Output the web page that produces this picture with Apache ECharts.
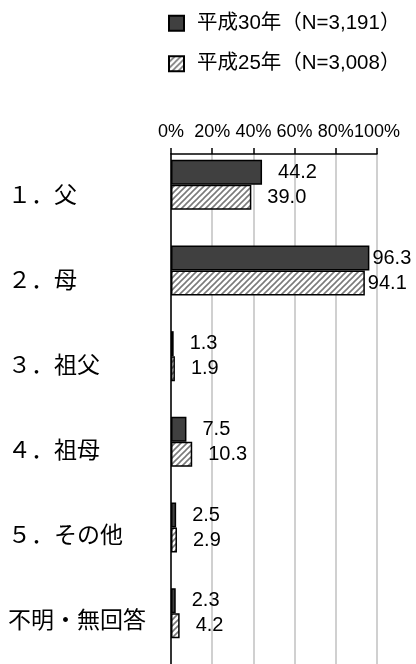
<!DOCTYPE html>
<html>
<head>
<meta charset="utf-8">
<script src="https://cdn.jsdelivr.net/npm/echarts@6/dist/echarts.min.js"></script>
<style>
html,body{margin:0;padding:0;background:#fff;}
#chart{width:416px;height:664px;}
</style>
</head>
<body>
<div id="chart"></div>
<script>
var categories = ['１．父', '２．母', '３．祖父', '４．祖母', '５．その他', '不明・無回答'];
var seriesNames = ['平成30年（N=3,191）', '平成25年（N=3,008）'];
var valuesH30 = [44.2, 96.3, 1.3, 7.5, 2.5, 2.3];
var valuesH25 = [39.0, 94.1, 1.9, 10.3, 2.9, 4.2];
var xTicks = [0, 20, 40, 60, 80, 100];

var FONT = '"Liberation Sans", Arial, "Noto Sans CJK JP", sans-serif';

function hatchPattern() {
  var c = document.createElement('canvas');
  c.width = 6; c.height = 6;
  var g = c.getContext('2d');
  g.fillStyle = '#ffffff';
  g.fillRect(0, 0, 6, 6);
  g.strokeStyle = '#7a7a7a';
  g.lineWidth = 1.6;
  g.beginPath();
  g.moveTo(-1, 7); g.lineTo(7, -1);
  g.moveTo(-1, 1); g.lineTo(1, -1);
  g.moveTo(5, 7); g.lineTo(7, 5);
  g.stroke();
  return {image: c, repeat: 'repeat'};
}

function items(arr) {
  return arr.map(function (v) {
    return v > 90 ? {value: v, label: {distance: 3}} : {value: v};
  });
}

var chart = echarts.init(document.getElementById('chart'), null, {renderer: 'canvas'});
var labelStyle = {
  show: true, position: 'right', distance: 16,
  fontFamily: FONT, fontSize: 20, color: '#000',
  formatter: function (p) { return p.value.toFixed(1); }
};
chart.setOption({
  animation: false,
  textStyle: {fontFamily: FONT},
  legend: {
    orient: 'vertical', left: 168, top: 13, padding: 0,
    itemWidth: 15, itemHeight: 15, itemGap: 20,
    icon: 'rect',
    textStyle: {fontFamily: FONT, fontSize: 20.5, color: '#000', padding: [0, 0, 0, 8]},
    data: seriesNames
  },
  grid: [
    {left: 171, width: 206, top: 154, height: 518},
    {left: 171, width: 206, top: 142, height: 514}
  ],
  xAxis: [
    {
      gridIndex: 0, type: 'value', position: 'top',
      min: xTicks[0], max: xTicks[xTicks.length - 1], interval: 20,
      axisLine: {show: true, lineStyle: {color: '#000', width: 1.5}},
      axisTick: {show: true, length: 6, lineStyle: {color: '#000', width: 1.5}},
      axisLabel: {formatter: '{value}%', fontFamily: FONT, fontSize: 18, color: '#000', margin: 13},
      splitLine: {show: true, lineStyle: {color: '#c0c0c0', width: 1.5}}
    },
    {gridIndex: 1, type: 'value', min: 0, max: 100, show: false}
  ],
  yAxis: [
    {
      gridIndex: 0, type: 'category', data: categories, inverse: true,
      axisLine: {show: true, lineStyle: {color: '#000', width: 1.5}},
      axisTick: {show: false},
      axisLabel: {align: 'left', margin: 163, fontFamily: FONT, fontSize: 23, color: '#000'}
    },
    {gridIndex: 1, type: 'category', data: categories, inverse: true, show: false}
  ],
  series: [
    {
      name: seriesNames[0], type: 'bar', xAxisIndex: 1, yAxisIndex: 1,
      barWidth: 25, barGap: '0%',
      itemStyle: {color: '#404040', borderColor: '#000', borderWidth: 1.5},
      label: labelStyle,
      data: items(valuesH30)
    },
    {
      name: seriesNames[1], type: 'bar', xAxisIndex: 1, yAxisIndex: 1,
      barWidth: 25, barGap: '0%',
      itemStyle: {color: hatchPattern(), borderColor: '#000', borderWidth: 1.5},
      label: labelStyle,
      data: items(valuesH25)
    }
  ]
});
</script>
</body>
</html>
